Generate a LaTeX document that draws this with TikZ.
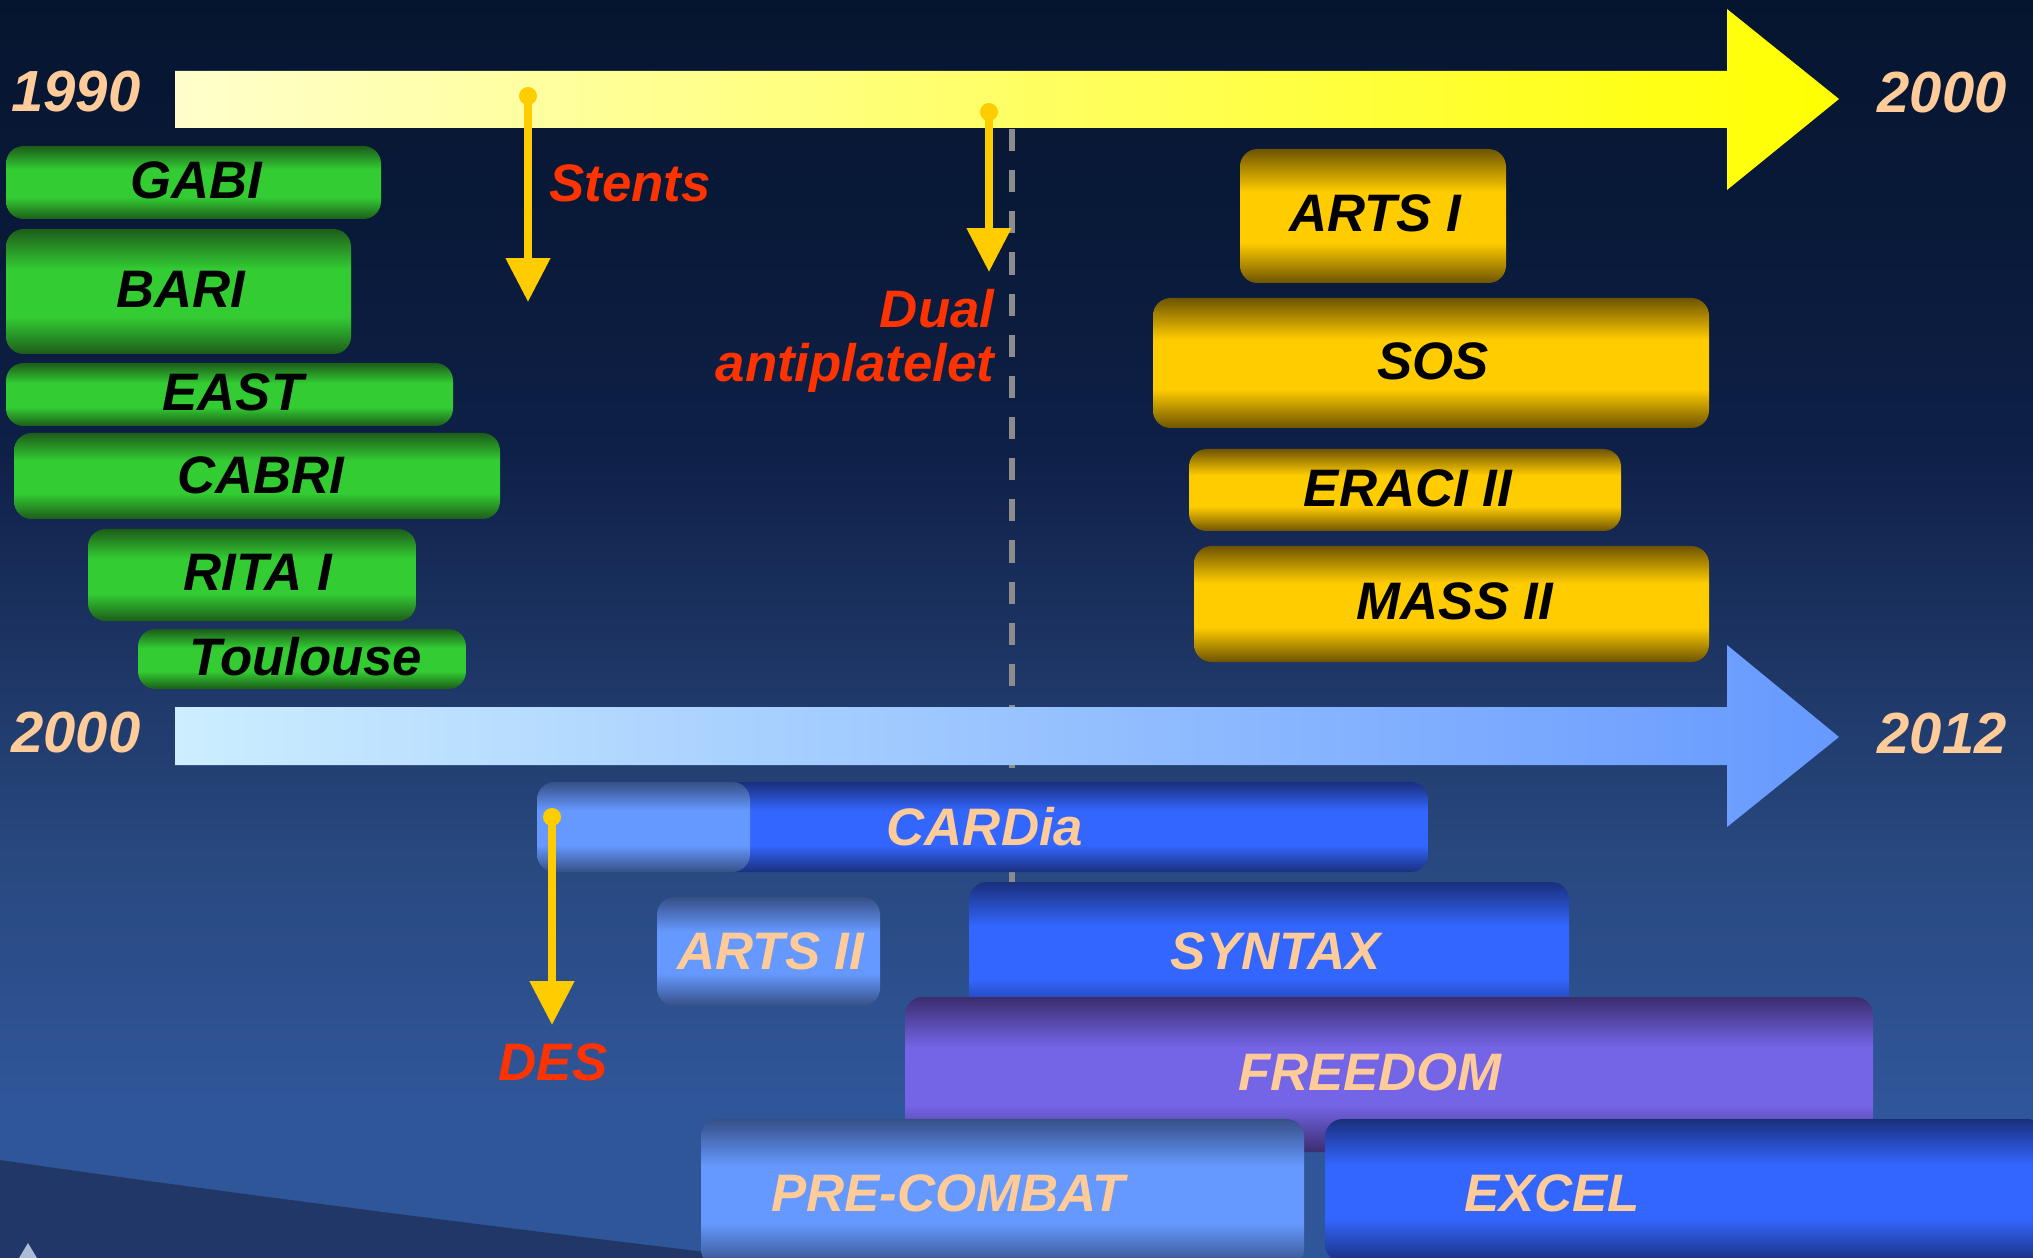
\documentclass[tikz,border=0pt]{standalone}
\usepackage{fontspec}
\setmainfont{Liberation Sans}
\usetikzlibrary{arrows.meta}

% palette
\definecolor{bgtop}{HTML}{06152F}
\definecolor{bgA}{HTML}{091A3A}
\definecolor{bgB}{HTML}{0F2048}
\definecolor{bgC}{HTML}{1D3564}
\definecolor{bgD}{HTML}{28487F}
\definecolor{bgbot}{HTML}{30569A}
\definecolor{wave}{HTML}{213767}
\definecolor{gdark}{HTML}{1D5C19}
\definecolor{gmid}{HTML}{33CC33}
\definecolor{odark}{HTML}{6E5400}
\definecolor{omid}{HTML}{FFCC00}
\definecolor{bdark}{HTML}{1A2F7C}
\definecolor{bmid}{HTML}{3366FF}
\definecolor{ldark}{HTML}{364F86}
\definecolor{lmid}{HTML}{6699FF}
\definecolor{pdark}{HTML}{3A2D6E}
\definecolor{pmid}{HTML}{7464E6}
\definecolor{peach}{HTML}{FFCC99}
\definecolor{eventred}{HTML}{FF3300}
\definecolor{eventyellow}{HTML}{FFCC00}
\definecolor{dashgray}{HTML}{8C8C8C}

% background and bar gradients (0bp = bottom)
\pgfdeclareverticalshading{bgshade}{100bp}{color(0bp)=(bgbot); color(31bp)=(bgbot);
  color(41bp)=(bgD); color(49bp)=(bgC); color(57bp)=(bgB); color(65bp)=(bgA);
  color(75bp)=(bgtop); color(100bp)=(bgtop)}
\pgfdeclareverticalshading{greenbar}{100bp}{color(0bp)=(gdark); color(25bp)=(gdark);
  color(40bp)=(gmid); color(59bp)=(gmid); color(75bp)=(gdark); color(100bp)=(gdark)}
\pgfdeclareverticalshading{goldbar}{100bp}{color(0bp)=(odark); color(25bp)=(odark);
  color(40bp)=(omid); color(59bp)=(omid); color(75bp)=(odark); color(100bp)=(odark)}
\pgfdeclareverticalshading{bluebar}{100bp}{color(0bp)=(bdark); color(25bp)=(bdark);
  color(40bp)=(bmid); color(59bp)=(bmid); color(75bp)=(bdark); color(100bp)=(bdark)}
\pgfdeclareverticalshading{lightbar}{100bp}{color(0bp)=(ldark); color(25bp)=(ldark);
  color(40bp)=(lmid); color(59bp)=(lmid); color(75bp)=(ldark); color(100bp)=(ldark)}
\pgfdeclareverticalshading{purplebar}{100bp}{color(0bp)=(pdark); color(25bp)=(pdark);
  color(40bp)=(pmid); color(59bp)=(pmid); color(75bp)=(pdark); color(100bp)=(pdark)}

\tikzset{
  trialbar/.style={shade, shading=#1, rounded corners=5pt},
  barlabel/.style={font=\bfseries\itshape\fontsize{15}{18}\selectfont, inner sep=0pt},
  darklabel/.style={barlabel, text=black},
  peachlabel/.style={barlabel, text=peach},
  yearlabel/.style={font=\bfseries\itshape\fontsize{16.5}{20}\selectfont, text=peach, inner sep=0pt},
  eventlabel/.style={font=\bfseries\itshape\fontsize{15}{18}\selectfont, text=eventred, inner sep=0pt},
  milestone/.style={draw=eventyellow, line width=2.3pt, -{Triangle[width=12.2pt,length=12.5pt]}},
  milestonedot/.style={fill=eventyellow},
  guide/.style={draw=dashgray, line width=1.7pt, dash pattern=on 6.3pt off 5.4pt},
}

\begin{document}
\begin{tikzpicture}[x=0.01cm, y=-0.01cm]
\useasboundingbox (0,0) rectangle (2033,1258);
\clip (0,0) rectangle (2033,1258);

% backdrop
\shade[shading=bgshade] (0,0) rectangle (2033,1258);
\fill[wave] (0,1160) .. controls (150,1182) and (400,1215) .. (607,1240)
  .. controls (680,1249) and (730,1255) .. (770,1258) -- (0,1258) -- cycle;
\fill[white!60!bgbot] (19,1258) -- (28,1243) -- (37,1258) -- cycle;

% vertical guide at the 2000 mark
\coordinate (guideTop) at (1012,129);
\coordinate (guideBot) at (1012,882);
\draw[guide] (guideTop) -- (guideBot);

% time axes
\shade[left color=yellow!20, right color=yellow!100!white]
  (175,71) -- (1727,71) -- (1727,9) -- (1839,99) -- (1727,190) -- (1727,128) -- (175,128) -- cycle;
\shade[left color={rgb,255:red,204;green,238;blue,255}, right color=lmid]
  (175,707) -- (1727,707) -- (1727,645) -- (1839,737) -- (1727,827) -- (1727,765) -- (175,765) -- cycle;

\node[yearlabel] (y1990) at (76,92) {1990};
\node[yearlabel] (y2000a) at (1942,93) {2000};
\node[yearlabel] (y2000b) at (76,733) {2000};
\node[yearlabel] (y2012) at (1942,734) {2012};

% 1990s trials
\path[trialbar=greenbar] (6,146) rectangle (381,219);
\path[trialbar=greenbar] (6,229) rectangle (351,354);
\path[trialbar=greenbar] (6,363) rectangle (453,426);
\path[trialbar=greenbar] (14,433) rectangle (500,519);
\path[trialbar=greenbar] (88,529) rectangle (416,621);
\path[trialbar=greenbar] (138,629) rectangle (466,689);

\path[trialbar=goldbar] (1240,149) rectangle (1506,283);
\path[trialbar=goldbar] (1153,298) rectangle (1709,428);
\path[trialbar=goldbar] (1189,449) rectangle (1621,531);
\path[trialbar=goldbar] (1194,546) rectangle (1709,662);

\node[darklabel] (gabi) at (196,180) {GABI};
\node[darklabel] (bari) at (181,289) {BARI};
\node[darklabel] (east) at (233,392) {EAST};
\node[darklabel] (cabri) at (261,475) {CABRI};
\node[darklabel] (rita) at (258,572) {RITA I};
\node[darklabel] (toulouse) at (306,657) {Toulouse};
\node[darklabel] (arts1) at (1375,213) {ARTS I};
\node[darklabel] (sos) at (1433,361) {SOS};
\node[darklabel] (eraci) at (1408,488) {ERACI II};
\node[darklabel] (mass) at (1455,601) {MASS II};

% 2000s trials
\path[trialbar=bluebar] (700,782) rectangle (1428,872);
\path[trialbar=lightbar] (537,782) rectangle (750,872);
\path[trialbar=lightbar] (657,897) rectangle (880,1006);
\path[trialbar=bluebar] (969,882) rectangle (1569,1020);
\path[trialbar=purplebar] (905,997) rectangle (1873,1152);
\path[trialbar=lightbar] (701,1119) rectangle (1304,1267);
\path[trialbar=bluebar] (1325,1119) rectangle (2045,1262);

\node[peachlabel] (cardia) at (985,827) {CARDia};
\node[peachlabel] (arts2) at (771,951) {ARTS II};
\node[peachlabel] (syntax) at (1276,951) {SYNTAX};
\node[peachlabel] (freedom) at (1370,1072) {FREEDOM};
\node[peachlabel] (precombat) at (948,1193) {PRE-COMBAT};
\node[peachlabel] (excel) at (1552,1193) {EXCEL};

% milestones
\coordinate (stentsTop) at (528,96);
\coordinate (stentsTip) at (528,302);
\coordinate (dualTop) at (989,112);
\coordinate (dualTip) at (989,272);
\coordinate (desTop) at (552,817);
\coordinate (desTip) at (552,1025);

\draw[milestone] (stentsTop) -- (stentsTip);
\draw[milestone] (dualTop) -- (dualTip);
\draw[milestone] (desTop) -- (desTip);
\fill[milestonedot] (stentsTop) circle[radius=0.09cm];
\fill[milestonedot] (dualTop) circle[radius=0.09cm];
\fill[milestonedot] (desTop) circle[radius=0.09cm];

\node[eventlabel, anchor=base] (stents) at (630,202) {Stents};
\node[eventlabel, anchor=base east] (dual) at (995,328) {Dual};
\node[eventlabel, anchor=base east] (antiplatelet) at (995,382) {antiplatelet};
\node[eventlabel, anchor=base] (des) at (553,1080) {DES};
\end{tikzpicture}
\end{document}
